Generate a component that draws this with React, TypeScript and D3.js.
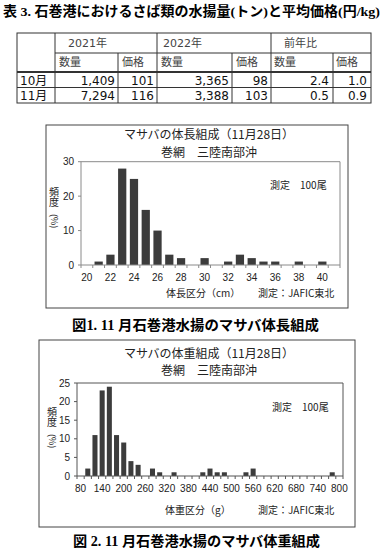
import React from 'react'
import {scaleBand, scaleLinear, format} from 'd3'

// table 3 values
const months = ['10月', '11月']
const qty2021 = [1409, 7294]
const price2021 = [101, 116]
const qty2022 = [3365, 3388]
const price2022 = [98, 103]
const ratioQty = [2.4, 0.5]
const ratioPrice = [1.0, 0.9]

// fig 1: body length (cm)
const lengthBins = [20, 21, 22, 23, 24, 25, 26, 27, 28, 29, 30, 31, 32, 33, 34, 35, 36, 37, 38, 39, 40, 41]
const lengthFreq = [0, 1, 3, 28, 25, 16, 10, 3, 2, 0, 2, 0, 1, 3, 2, 1, 1, 0, 1, 0, 1, 0]
const lengthTicks = [20, 22, 24, 26, 28, 30, 32, 34, 36, 38, 40]
const lengthYTicks = [0, 10, 20, 30]

// fig 2: body weight (g)
const weightBins = [
  80, 100, 120, 140, 160, 180, 200, 220, 240, 260, 280, 300, 320, 340, 360, 380, 400, 420, 440,
  460, 480, 500, 520, 540, 560, 580, 600, 620, 640, 660, 680, 700, 720, 740, 760, 780, 800
]
const weightFreq = [
  0, 2, 11, 23, 24, 11, 9, 4, 3, 0, 2, 1, 0, 1, 0, 0, 0, 1, 2, 1, 1, 0, 0, 1, 2, 0, 0, 0, 0, 0, 0,
  0, 0, 0, 0, 1, 0
]
const weightTicks = [80, 140, 200, 260, 320, 380, 440, 500, 560, 620, 680, 740, 800]
const weightYTicks = [0, 5, 10, 15, 20, 25]

const JP = '"Noto Sans CJK JP", sans-serif'
const NUM = '"DejaVu Sans", "Noto Sans CJK JP", sans-serif'
const AX = '"Liberation Sans", Arial, sans-serif'
const SERIF = '"Liberation Serif", "Noto Sans CJK JP", serif'

const Table = () => {
  const fmt = format(',')
  const f1 = format('.1f')
  const left = 17, right = 371
  const top = 33, h1 = 53, h2 = 72, r1 = 87.5, bottom = 103
  const cols = [55, 118, 157, 232, 271, 333]
  const rowsY = [84.5, 100]
  const rightEdges = [115, 154, 229, 268, 329, 367]
  const line = '#333'
  return (
    <g>
      <text x={3} y={16} fontFamily={SERIF} fontWeight="bold" fontSize={13.5}
        textLength={377} lengthAdjust="spacingAndGlyphs">
        表 3. 石巻港におけるさば類の水揚量(トン)と平均価格(円/kg)
      </text>
      <rect x={left} y={top} width={right - left} height={bottom - top} fill="none" stroke={line} />
      <line x1={cols[0]} x2={right} y1={h1} y2={h1} stroke={line} />
      <line x1={left} x2={right} y1={h2} y2={h2} stroke={line} strokeWidth={1.8} />
      <line x1={left} x2={right} y1={r1} y2={r1} stroke={line} />
      {[cols[0], cols[2], cols[4]].map(x => (
        <line key={x} x1={x} x2={x} y1={top} y2={bottom} stroke={line} />
      ))}
      {[cols[1], cols[3], cols[5]].map(x => (
        <line key={x} x1={x} x2={x} y1={h1} y2={bottom} stroke={line} />
      ))}
      <g fontFamily={NUM} fontSize={11} fill="#444">
        <text x={68} y={47}>2021年</text>
        <text x={163} y={47}>2022年</text>
        <text x={284} y={47}>前年比</text>
        {['数量', '価格', '数量', '価格', '数量', '価格'].map((t, i) => (
          <text key={i} x={[59, 122, 161, 236, 274, 336][i]} y={66}>{t}</text>
        ))}
      </g>
      <g fontFamily={NUM} fontSize={12} fill="#111">
        {months.map((m, i) => {
          const vals = [
            fmt(qty2021[i]), String(price2021[i]), fmt(qty2022[i]),
            String(price2022[i]), f1(ratioQty[i]), f1(ratioPrice[i])
          ]
          return (
            <g key={m}>
              <text x={20} y={rowsY[i]}>{m}</text>
              {vals.map((v, j) => (
                <text key={j} x={rightEdges[j]} y={rowsY[i]} textAnchor="end">{v}</text>
              ))}
            </g>
          )
        })}
      </g>
    </g>
  )
}

type HistProps = {
  frame: [number, number, number, number]
  plot: [number, number, number, number]
  bins: number[]
  freq: number[]
  ticks: number[]
  yTicks: number[]
  title: string
  count: [number, number]
  xTitle: string
  xTitleX: number
  sourceX: number
  footY: number
  yLabelX: number
  yLabelY: number
  titleY: [number, number]
  axisColor: string
}

const Histogram = (p: HistProps) => {
  const [fx0, fy0, fx1, fy1] = p.frame
  const [px0, py0, px1, py1] = p.plot
  const x = scaleBand<number>()
    .domain(p.bins)
    .range([px0, px1])
    .paddingInner(0.3)
    .paddingOuter(0.15)
  const y = scaleLinear()
    .domain([0, p.yTicks[p.yTicks.length - 1]])
    .range([py1, py0])
  const step = x.step()
  const cx = (d: number) => (x(d) as number) + x.bandwidth() / 2
  const midX = (fx0 + fx1) / 2 + 12
  return (
    <g>
      <rect x={fx0} y={fy0} width={fx1 - fx0} height={fy1 - fy0} fill="#fff" stroke="#444" />
      <g fontFamily={JP} fontSize={12} fill="#222" textAnchor="middle">
        <text x={midX} y={p.titleY[0]}>{p.title}</text>
        <text x={midX} y={p.titleY[1]}>巻網　三陸南部沖</text>
      </g>
      {/* plot border */}
      <path d={`M${px0},${py1}V${py0}H${px1}V${py1}`} fill="none" stroke={p.axisColor} />
      {p.bins.map((d, i) => (
        <rect key={d} x={x(d)} y={y(p.freq[i])} width={x.bandwidth()}
          height={y(0) - y(p.freq[i])} fill="#3c3c3c" />
      ))}
      <line x1={px0} x2={px1} y1={py1} y2={py1} stroke={p.axisColor} />
      {p.bins.concat([NaN]).map((d, i) => (
        <line key={i} x1={px0 + i * step} x2={px0 + i * step} y1={py1} y2={py1 + 3}
          stroke={p.axisColor} />
      ))}
      {p.yTicks.map(t => (
        <line key={t} x1={px0 - 3} x2={px0} y1={y(t)} y2={y(t)} stroke={p.axisColor} />
      ))}
      <g fontFamily={AX} fontSize={10} fill="#222">
        {p.yTicks.map(t => (
          <text key={t} x={px0 - 7} y={y(t) + 3.5} textAnchor="end">{t}</text>
        ))}
        {p.ticks.map(t => (
          <text key={t} x={cx(t)} y={py1 + 16} textAnchor="middle">{t}</text>
        ))}
      </g>
      <g fontFamily={JP} fontSize={10} fill="#222">
        <text x={p.yLabelX} y={p.yLabelY} style={{writingMode: 'vertical-rl'}}>頻度</text>
        <text x={p.yLabelX} y={p.yLabelY + 27} fontSize={9}
          style={{writingMode: 'vertical-rl'}}>(%)</text>
        <text x={p.count[0]} y={p.count[1]}>測定　100尾</text>
        <text x={p.xTitleX} y={p.footY}>{p.xTitle}</text>
        <text x={p.sourceX} y={p.footY}>測定：JAFIC東北</text>
      </g>
    </g>
  )
}

export default function App() {
  return (
    <div style={{position: 'absolute', left: 0, top: 0}}>
      <svg width={389} height={557} style={{display: 'block', background: '#fff'}}>
        <Table />
        <Histogram
          frame={[46, 125, 348, 308]}
          plot={[81, 161.7, 340, 265]}
          bins={lengthBins}
          freq={lengthFreq}
          ticks={lengthTicks}
          yTicks={lengthYTicks}
          title="マサバの体長組成（11月28日）"
          titleY={[139, 157]}
          count={[270, 189]}
          xTitle="体長区分（cm）"
          xTitleX={166}
          sourceX={258}
          footY={297}
          yLabelX={54}
          yLabelY={187}
          axisColor="#8a8a8a"
        />
        <text x={72} y={330} fontFamily={SERIF} fontWeight="bold" fontSize={14}
          textLength={247} lengthAdjust="spacingAndGlyphs">
          図1.  11 月石巻港水揚のマサバ体長組成
        </text>
        <Histogram
          frame={[39, 340, 355, 527]}
          plot={[77, 383, 343, 476]}
          bins={weightBins}
          freq={weightFreq}
          ticks={weightTicks}
          yTicks={weightYTicks}
          title="マサバの体重組成（11月28日）"
          titleY={[358, 375]}
          count={[272, 411]}
          xTitle="体重区分（g）"
          xTitleX={165}
          sourceX={258}
          footY={514}
          yLabelX={52}
          yLabelY={407}
          axisColor="#555"
        />
        <text x={73} y={546} fontFamily={SERIF} fontWeight="bold" fontSize={14}
          textLength={247} lengthAdjust="spacingAndGlyphs">
          図 2. 11 月石巻港水揚のマサバ体重組成
        </text>
      </svg>
    </div>
  )
}
